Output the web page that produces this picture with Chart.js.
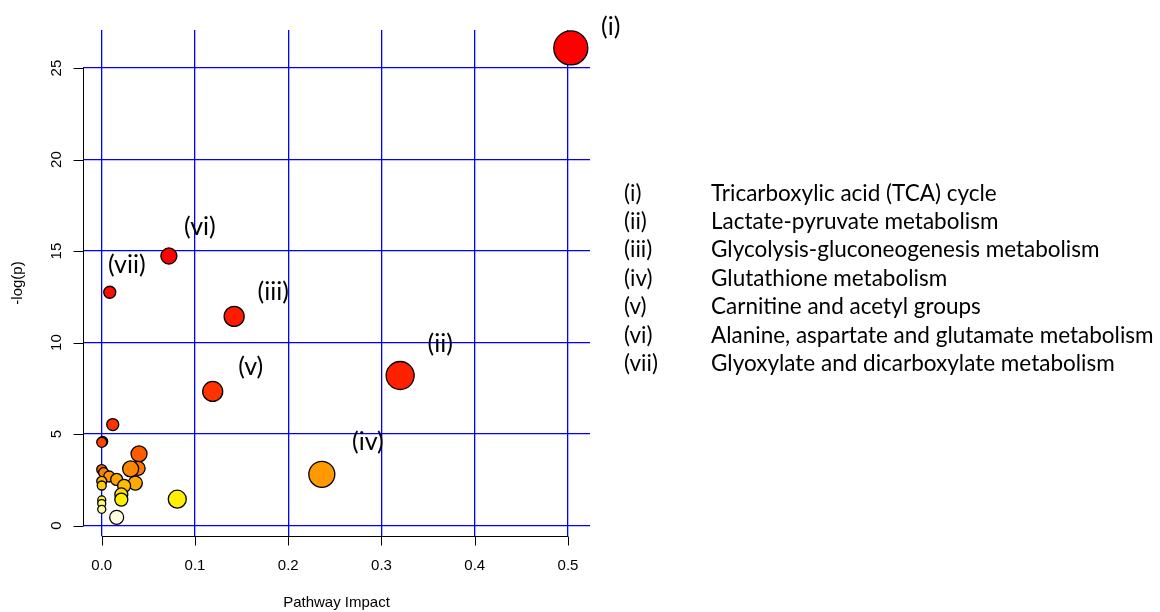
<!DOCTYPE html>
<html>
<head>
<meta charset="utf-8">
<script src="https://cdn.jsdelivr.net/npm/chart.js@4/dist/chart.umd.min.js"></script>
<style>
  body { margin: 0; background: #fff; }
  #wrap { position: relative; width: 1160px; height: 612px; }
  #legend {
    position: absolute; left: 624px; top: 178.5px;
    font-family: Lato, "Open Sans", sans-serif; font-size: 22.5px; line-height: 28.4px; color: #000;
  }
  #legend .num { display: inline-block; width: 87px; }
</style>
</head>
<body>
<div id="wrap">
  <canvas id="chart" width="1160" height="612"></canvas>
  <div id="legend"></div>
</div>
<script>
// pathway points
const impact = [0.503, 0.320, 0.142, 0.236, 0.119, 0.072, 0.0086,
  0.0118, 0.001, 0.0, 0.040, 0.039, 0.031, 0.036, 0.0, 0.002, 0.008, 0.016,
  0.024, 0.0, 0.0, 0.021, 0.021, 0.081, 0.0, 0.0, 0.0, 0.016];
const logp = [26.1, 8.2, 11.43, 2.8, 7.33, 14.73, 12.75,
  5.52, 4.6, 4.55, 3.92, 3.13, 3.1, 2.32, 3.06, 2.9, 2.68, 2.52,
  2.17, 2.42, 2.19, 1.7, 1.42, 1.44, 1.4, 1.2, 0.89, 0.45];
const radius = [17, 14, 10, 13, 10, 8, 6,
  6, 5, 5, 8, 7, 8, 7, 5, 5, 5.5, 6,
  6.5, 5, 4.5, 6.5, 6.5, 9, 4, 4, 4, 7];
const fills = ["#ff0000", "#ff2000", "#ff1a00", "#ff9900", "#ff3300", "#ff0000", "#ff0d00",
  "#ff3300", "#ff3300", "#ff4400", "#ff5a00", "#ff7700", "#ff8800", "#ffaa00", "#ff7000", "#ff8000", "#ff9500", "#ffa500",
  "#ffbb00", "#ffb300", "#ffcc00", "#ffdd00", "#ffee00", "#ffee00", "#ffee33", "#ffff66", "#ffffaa", "#ffffe0"];

const labelNames = ["(i)", "(ii)", "(iii)", "(iv)", "(v)", "(vi)", "(vii)"];
const pathways = [
  "Tricarboxylic acid (TCA) cycle",
  "Lactate-pyruvate metabolism",
  "Glycolysis-gluconeogenesis metabolism",
  "Glutathione metabolism",
  "Carnitine and acetyl groups",
  "Alanine, aspartate and glutamate metabolism",
  "Glyoxylate and dicarboxylate metabolism"
];
const xTicks = [0, 0.1, 0.2, 0.3, 0.4, 0.5];
const yTicks = [0, 5, 10, 15, 20, 25];

// label offsets (px) from their points
const labelOffsets = [[40, -21], [40, -32], [39, -24], [46, -32], [38, -24], [31, -29], [17, -27]];

const legend = document.getElementById("legend");
labelNames.forEach((n, i) => {
  const row = document.createElement("div");
  row.innerHTML = `<span class="num">${n}</span>${pathways[i]}`;
  legend.appendChild(row);
});

const rAxes = {
  id: "rAxes",
  afterDraw(chart) {
    const ctx = chart.ctx;
    const xs = chart.scales.x, ys = chart.scales.y;
    const area = chart.chartArea;
    ctx.save();
    ctx.strokeStyle = "#000";
    ctx.lineWidth = 1;
    ctx.fillStyle = "#000";
    ctx.font = "15px 'Liberation Sans', Arial, sans-serif";

    // x axis
    const xb = Math.round(area.bottom) + 0.5;
    ctx.beginPath();
    ctx.moveTo(xs.getPixelForValue(xTicks[0]), xb);
    ctx.lineTo(xs.getPixelForValue(xTicks[xTicks.length - 1]), xb);
    xTicks.forEach(v => {
      const px = Math.round(xs.getPixelForValue(v)) + 0.5;
      ctx.moveTo(px, xb);
      ctx.lineTo(px, xb + 9);
    });
    ctx.stroke();
    ctx.textAlign = "center";
    ctx.textBaseline = "middle";
    xTicks.forEach(v => ctx.fillText(v.toFixed(1), xs.getPixelForValue(v), 566));
    ctx.fillText("Pathway Impact", (area.left + area.right) / 2, 603);

    // y axis
    const yl = Math.round(area.left) + 0.5;
    ctx.beginPath();
    ctx.moveTo(yl, ys.getPixelForValue(yTicks[0]));
    ctx.lineTo(yl, ys.getPixelForValue(yTicks[yTicks.length - 1]));
    yTicks.forEach(v => {
      const py = Math.round(ys.getPixelForValue(v)) + 0.5;
      ctx.moveTo(yl, py);
      ctx.lineTo(yl - 10, py);
    });
    ctx.stroke();
    yTicks.forEach(v => {
      ctx.save();
      ctx.translate(57, ys.getPixelForValue(v));
      ctx.rotate(-Math.PI / 2);
      ctx.fillText(String(v), 0, 0);
      ctx.restore();
    });
    ctx.save();
    ctx.translate(18, (area.top + area.bottom) / 2);
    ctx.rotate(-Math.PI / 2);
    ctx.fillText("-log(p)", 0, 0);
    ctx.restore();

    // point labels
    ctx.font = "25px Lato, 'Open Sans', sans-serif";
    labelNames.forEach((n, i) => {
      const px = xs.getPixelForValue(impact[i]) + labelOffsets[i][0];
      const py = ys.getPixelForValue(logp[i]) + labelOffsets[i][1];
      ctx.fillText(n, px, py);
    });
    ctx.restore();
  }
};

new Chart(document.getElementById("chart"), {
  type: "bubble",
  data: {
    datasets: [{
      data: impact.map((x, i) => ({ x, y: logp[i], r: radius[i] })),
      backgroundColor: fills,
      borderColor: "#000",
      borderWidth: 1.3,
      hoverRadius: 0
    }]
  },
  options: {
    responsive: false,
    animation: false,
    layout: { padding: { left: 83, right: 570, top: 30, bottom: 76 } },
    plugins: { legend: { display: false }, tooltip: { enabled: false } },
    scales: {
      x: {
        type: "linear", min: -0.0201, max: 0.5236,
        afterBuildTicks: s => { s.ticks = xTicks.map(v => ({ value: v })); },
        ticks: { display: false },
        border: { display: false },
        grid: { color: "#0000ff", lineWidth: 1.3, drawTicks: false }
      },
      y: {
        type: "linear", min: -0.57, max: 27.08,
        afterBuildTicks: s => { s.ticks = yTicks.map(v => ({ value: v })); },
        ticks: { display: false },
        border: { display: false },
        grid: { color: "#0000ff", lineWidth: 1.3, drawTicks: false }
      }
    }
  },
  plugins: [rAxes]
});
</script>
</body>
</html>
